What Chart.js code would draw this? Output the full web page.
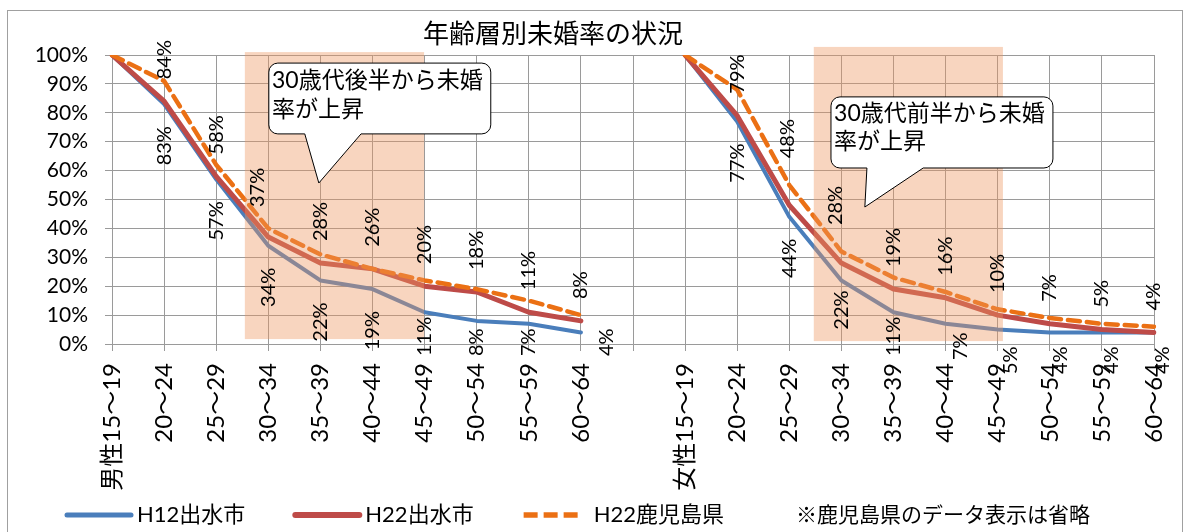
<!DOCTYPE html>
<html>
<head>
<meta charset="utf-8">
<script src="https://cdn.jsdelivr.net/npm/chart.js@4/dist/chart.umd.min.js"></script>
<style>
  html, body { margin: 0; padding: 0; background: #fff; }
  canvas { display: block; }
</style>
</head>
<body>
<canvas id="chart" width="1184" height="532"></canvas>
<script>
// Age groups (male block, gap, female block)
const maleAges = ['男性15～19', '20～24', '25～29', '30～34', '35～39', '40～44', '45～49', '50～54', '55～59', '60～64'];
const femaleAges = ['女性15～19', '20～24', '25～29', '30～34', '35～39', '40～44', '45～49', '50～54', '55～59', '60～64'];

// Unmarried rate (%)
const maleH12 = [100, 83, 57, 34, 22, 19, 11, 8, 7, 4];
const maleH22 = [100, 84, 58, 37, 28, 26, 20, 18, 11, 8];
const maleKagoshima = [100, 91, 62, 40, 31, 26, 22, 19, 15, 10];
const femaleH12 = [100, 77, 44, 22, 11, 7, 5, 4, 4, 4];
const femaleH22 = [100, 79, 48, 28, 19, 16, 10, 7, 5, 4];
const femaleKagoshima = [100, 88, 55, 32, 23, 18, 12, 9, 7, 6];

const seriesNames = ['H12出水市', 'H22出水市', 'H22鹿児島県'];
const yTicks = [0, 10, 20, 30, 40, 50, 60, 70, 80, 90, 100];
const titleText = '年齢層別未婚率の状況';
const noteText = '※鹿児島県のデータ表示は省略';
const calloutMale = ['30歳代後半から未婚', '率が上昇'];
const calloutFemale = ['30歳代前半から未婚', '率が上昇'];

const categories = [...maleAges, '', ...femaleAges];
const joinBlocks = (m, f) => [...m, null, ...f];

const FONT = 'Lato, "Noto Sans CJK JP", sans-serif';
const GRID = '#9a9a9a';

// Label placement tweaks (series -> category index -> nudge)
const labelNudge = {
  'H22出水市': { 3: { dx: -11, gap: 8 }, 13: { dx: -2, gap: 25 }, 14: { dx: -6, gap: 16 } },
  'H12出水市': { 9: { dx: 26 }, 14: { gap: -12 }, 16: { dx: 15, dy: 4 }, 17: { dx: 13, dy: 18 },
                18: { dx: 11, dy: 18 }, 19: { dx: 10, dy: 18 }, 20: { dx: 9, dy: 18 } }
};

// Highlighted age ranges, in category-index / percent units
const highlights = [
  { x0: 2.55, x1: 5.99, y0: 1.7, y1: 101 },
  { x0: 13.47, x1: 17.10, y0: 1.0, y1: 102.8 }
];
const callouts = [
  { lines: calloutMale, x0: 3.01, x1: 7.27, yTop: 97.2, yBot: 72.7,
    baseL: 3.70, baseR: 4.78, tipX: 3.97, tipY: 55.7, textX: 3.07, lineY: [91.3, 81.0] },
  { lines: calloutFemale, x0: 13.80, x1: 18.06, yTop: 85.5, yBot: 60.9,
    baseL: 14.49, baseR: 15.57, tipX: 14.45, tipY: 47.4, textX: 13.86, lineY: [79.9, 69.9] }
];

const overlayPlugin = {
  id: 'overlay',
  beforeDraw(chart) {
    const ctx = chart.ctx;
    ctx.save();
    ctx.fillStyle = '#fff';
    ctx.fillRect(0, 0, chart.width, chart.height);
    ctx.strokeStyle = '#a0a0a0';
    ctx.lineWidth = 1;
    ctx.strokeRect(7.5, 10.5, 1175, 600);
    ctx.restore();
  },
  afterDatasetsDraw(chart) {
    const ctx = chart.ctx;
    const xs = chart.scales.x, ys = chart.scales.y;
    const px = v => xs.getPixelForValue(v);
    const py = v => ys.getPixelForValue(v);

    // shaded ranges
    ctx.save();
    ctx.fillStyle = 'rgba(238,150,95,0.40)';
    highlights.forEach(h => {
      ctx.fillRect(px(h.x0), py(h.y1), px(h.x1) - px(h.x0), py(h.y0) - py(h.y1));
    });
    ctx.restore();

    // speech-bubble callouts
    callouts.forEach(c => {
      const l = px(c.x0), r = px(c.x1), t = py(c.yTop), b = py(c.yBot);
      const rad = 9;
      ctx.save();
      ctx.beginPath();
      ctx.moveTo(l + rad, t);
      ctx.lineTo(r - rad, t);
      ctx.arcTo(r, t, r, t + rad, rad);
      ctx.lineTo(r, b - rad);
      ctx.arcTo(r, b, r - rad, b, rad);
      ctx.lineTo(px(c.baseR), b);
      ctx.lineTo(px(c.tipX), py(c.tipY));
      ctx.lineTo(px(c.baseL), b);
      ctx.lineTo(l + rad, b);
      ctx.arcTo(l, b, l, b - rad, rad);
      ctx.lineTo(l, t + rad);
      ctx.arcTo(l, t, l + rad, t, rad);
      ctx.closePath();
      ctx.fillStyle = '#fff';
      ctx.fill();
      ctx.strokeStyle = '#000';
      ctx.lineWidth = 1;
      ctx.stroke();
      ctx.fillStyle = '#000';
      ctx.font = '23px ' + FONT;
      ctx.textAlign = 'left';
      ctx.textBaseline = 'middle';
      c.lines.forEach((txt, i) => ctx.fillText(txt, px(c.textX), py(c.lineY[i])));
      ctx.restore();
    });

    // value labels: H12 below the line, H22 above it
    ctx.save();
    ctx.font = '20px ' + FONT;
    ctx.fillStyle = '#000';
    ctx.textBaseline = 'middle';
    const maxBottom = 356;
    [0, 1].forEach(di => {
      const ds = chart.data.datasets[di];
      const meta = chart.getDatasetMeta(di);
      const nudges = labelNudge[ds.label] || {};
      meta.data.forEach((pt, i) => {
        const v = ds.data[i];
        if (v === null || i === 0 || i === 11) return;
        const txt = v + '%';
        const w = ctx.measureText(txt).width;
        const n = nudges[i] || {};
        const gap = 22 + (n.gap || 0);
        ctx.save();
        if (di === 0) {
          let top = pt.y + gap;
          if (top + w > maxBottom) top = maxBottom - w;
          top += (n.dy || 0);
          ctx.translate(pt.x + (n.dx || 0), top);
          ctx.rotate(-Math.PI / 2);
          ctx.textAlign = 'right';
        } else {
          ctx.translate(pt.x + (n.dx || 0), pt.y - gap + (n.dy || 0));
          ctx.rotate(-Math.PI / 2);
          ctx.textAlign = 'left';
        }
        ctx.fillText(txt, 0, 0);
        ctx.restore();
      });
    });
    ctx.restore();
  },
  afterDraw(chart) {
    const ctx = chart.ctx;
    ctx.save();
    // title
    ctx.fillStyle = '#000';
    ctx.font = '26px "Noto Sans CJK JP", sans-serif';
    ctx.textAlign = 'center';
    ctx.textBaseline = 'middle';
    ctx.fillText(titleText, 553, 33);

    // legend
    ctx.font = '22px ' + FONT;
    ctx.textAlign = 'left';
    let x = 67;
    const y = 515;
    chart.data.datasets.forEach(ds => {
      ctx.save();
      ctx.strokeStyle = ds.borderColor;
      ctx.lineWidth = ds.borderWidth + 1;
      ctx.setLineDash(ds.borderDash ? [14, 6] : []);
      ctx.lineCap = ds.borderDash ? 'butt' : 'round';
      ctx.beginPath();
      ctx.moveTo(x, y);
      ctx.lineTo(x + (ds.borderDash ? 54 : 64), y);
      ctx.stroke();
      ctx.restore();
      ctx.fillStyle = '#000';
      const tx = x + 70;
      ctx.fillText(ds.label, tx, y);
      x = tx + ctx.measureText(ds.label).width + 50;
    });
    ctx.font = '21px ' + FONT;
    ctx.fillText(noteText, x + 22, y);
    ctx.restore();
  }
};

new Chart(document.getElementById('chart'), {
  type: 'line',
  data: {
    labels: categories,
    datasets: [
      { label: seriesNames[0], data: joinBlocks(maleH12, femaleH12), borderColor: '#4A7EBB', borderWidth: 4, order: 3 },
      { label: seriesNames[1], data: joinBlocks(maleH22, femaleH22), borderColor: '#BE4B48', borderWidth: 5, order: 2 },
      { label: seriesNames[2], data: joinBlocks(maleKagoshima, femaleKagoshima), borderColor: '#EB7014', borderWidth: 4.5,
        borderDash: [12, 7], order: 1 }
    ]
  },
  options: {
    responsive: false,
    animation: false,
    devicePixelRatio: 1,
    layout: { padding: { top: 55, right: 30, bottom: 0, left: 0 } },
    elements: {
      point: { radius: 0, hoverRadius: 0 },
      line: { tension: 0, fill: false, borderJoinStyle: 'round', borderCapStyle: 'round' }
    },
    spanGaps: false,
    plugins: {
      legend: { display: false },
      title: { display: false },
      tooltip: { enabled: false }
    },
    scales: {
      x: {
        type: 'category',
        offset: false,
        grid: { color: GRID, lineWidth: 1, drawTicks: true, tickLength: 7, tickColor: GRID },
        border: { color: GRID },
        ticks: { autoSkip: false, maxRotation: 90, minRotation: 90, padding: 12, color: '#000',
                 font: { family: FONT, size: 24 } },
        afterFit(scale) {
          scale.height = 188;
          scale.paddingLeft = 0;
          scale.paddingRight = 0;
        }
      },
      y: {
        min: 0,
        max: 100,
        afterBuildTicks(scale) { scale.ticks = yTicks.map(v => ({ value: v })); },
        grid: { color: GRID, lineWidth: 1, drawTicks: true, tickLength: 7, tickColor: GRID },
        border: { color: GRID },
        ticks: { padding: 17, color: '#000', font: { family: FONT, size: 21 }, callback: v => v + '%' },
        afterFit(scale) {
          scale.width = 112;
          scale.paddingTop = 0;
          scale.paddingBottom = 0;
        }
      }
    }
  },
  plugins: [overlayPlugin]
});
</script>
</body>
</html>
